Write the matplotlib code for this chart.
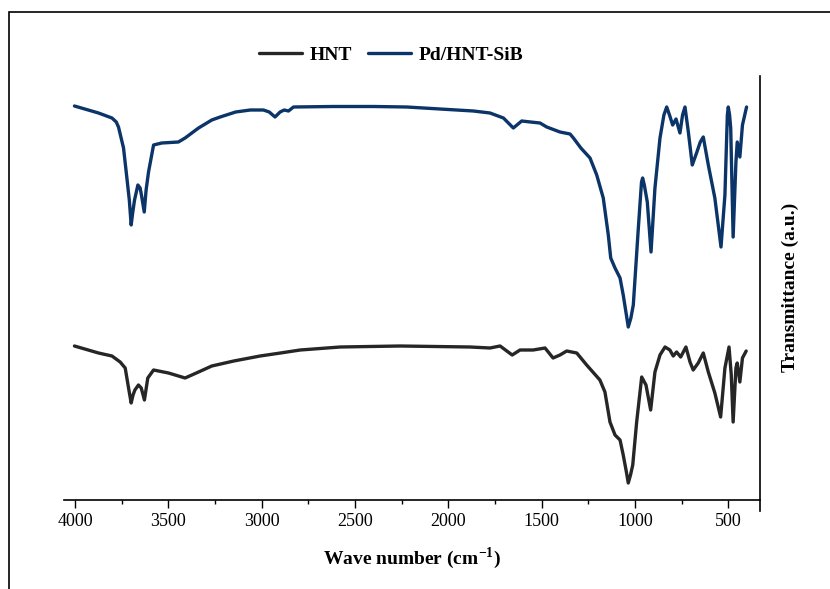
import numpy as np
import matplotlib.pyplot as plt
from matplotlib.patches import Rectangle
from matplotlib.ticker import MultipleLocator

# ===================== 配置 =====================
plt.rcParams['font.family'] = ['Liberation Serif', 'DejaVu Serif']
plt.rcParams['mathtext.fontset'] = 'custom'
plt.rcParams['mathtext.rm'] = 'Liberation Serif'
plt.rcParams['mathtext.bf'] = 'Liberation Serif:bold'

# ===================== 数据 =====================
# Pd/HNT-SiB spectrum: wavenumber (cm-1) and transmittance (a.u.)
wn_pd = [4004, 3875, 3803, 3780, 3768, 3741, 3723, 3710, 3700, 3692, 3682, 3664, 3652,
         3645, 3630, 3620, 3607, 3580, 3536, 3447, 3411, 3339, 3268, 3223, 3140, 3062,
         2991, 2960, 2929, 2902, 2880, 2857, 2830, 2616, 2400, 2223, 2045, 1866, 1777,
         1705, 1652, 1607, 1560, 1509, 1473, 1402, 1348, 1330, 1290, 1241, 1205, 1170,
         1143, 1130, 1107, 1080, 1063, 1046, 1036, 1022, 1009, 982, 965, 959, 950, 934,
         914, 893, 866, 845, 830, 815, 798, 780, 759, 745, 732, 714, 693, 670, 650, 634,
         607, 572, 539, 518, 505, 500, 493, 487, 474, 459, 452, 438, 424, 402]
tr_pd = [394, 387, 382, 378, 373, 352, 322, 300, 275, 287, 300, 315, 312,
         305, 288, 310, 328, 355, 357, 358, 362, 372, 380, 383, 388, 390,
         390, 388, 383, 388, 390, 389, 393, 393.5, 393.5, 393, 391, 389, 387,
         382, 372, 379, 378, 377, 373, 368, 366, 362, 352, 342, 325, 302,
         265, 242, 232, 222, 205, 185, 173, 182, 195, 272, 318, 322, 315, 298,
         248, 312, 362, 385, 393, 385, 375, 381, 367, 385, 393, 368, 335, 347, 358, 363,
         335, 302, 253, 305, 385, 393, 385, 372, 263, 338, 358, 343, 375, 393]

# HNT spectrum
wn_hnt = [4004, 3875, 3803, 3759, 3732, 3714, 3700, 3690, 3680, 3661, 3646, 3629, 3611,
          3580, 3500, 3411, 3339, 3268, 3150, 3009, 2900, 2794, 2580, 2259, 1884, 1777, 1723,
          1658, 1616, 1546, 1482, 1439, 1402, 1366, 1312, 1259, 1188, 1161, 1134,
          1107, 1080, 1063, 1046, 1036, 1024, 1012, 991, 964, 941, 916, 893, 866, 839, 813,
          795, 777, 755, 727, 705, 688, 661, 634, 607, 572, 541, 518, 496, 484,
          474, 459, 452, 438, 424, 404]
tr_hnt = [154, 147, 144, 138, 132, 112, 97, 105, 110, 115, 112, 100, 122,
          130, 127, 122, 128, 134, 139, 144, 147, 150, 153, 154, 153, 152, 154,
          145, 150, 150, 152, 142, 145, 149, 147, 135, 120, 108, 78,
          65, 60, 45, 28, 17, 25, 35, 78, 123, 115, 90, 128, 145, 153, 150,
          144, 148, 143, 153, 138, 130, 137, 147, 128, 107, 83, 132, 153, 125,
          78, 132, 137, 118, 142, 149]

labels = ["HNT", "Pd/HNT-SiB"]
colors = ["#262626", "#0b3468"]

# ===================== 绘图 =====================
fig = plt.figure(figsize=(8.3, 5.89), dpi=100)
ax = fig.add_axes([64 / 830, 1 - 500 / 589, 696 / 830, 424 / 589])

ax.plot(wn_hnt, tr_hnt, color=colors[0], lw=2.4, label=labels[0],
        solid_capstyle='round', solid_joinstyle='round')
ax.plot(wn_pd, tr_pd, color=colors[1], lw=2.4, label=labels[1],
        solid_capstyle='round', solid_joinstyle='round')

ax.set_xlim(4060, 330)
ax.set_ylim(0, 424)
ax.xaxis.set_major_locator(MultipleLocator(500))
ax.xaxis.set_minor_locator(MultipleLocator(250))
ax.tick_params(axis='x', which='major', direction='out', length=6, width=1, labelsize=13, pad=3)
ax.tick_params(axis='x', which='minor', direction='out', length=3, width=1)
ax.set_yticks([])

ax.spines['top'].set_visible(False)
ax.spines['left'].set_visible(False)
ax.spines['bottom'].set_linewidth(1.2)
ax.spines['right'].set_linewidth(1.2)
ax.spines['right'].set_bounds(-11, 424)
ax.spines['bottom'].set_bounds(4060, 330)

ax.set_xlabel("Wave number (cm$^{\\mathbf{-1}}$)", fontsize=14, fontweight='bold', labelpad=11)
fig.text(790 / 830, 1 - 287 / 589, "Transmittance (a.u.)", rotation=90,
         ha='center', va='center', fontsize=14, fontweight='bold')

leg = ax.legend(loc='center', bbox_to_anchor=(0.47, 1.05), ncol=2, frameon=False,
                handlelength=2.2, handletextpad=0.4, columnspacing=0.8,
                prop={'weight': 'bold', 'size': 14})

# outer frame around the figure
fig.patches.append(Rectangle((9 / 830, -0.1), 1.2, 1 - 12 / 589 + 0.1, transform=fig.transFigure,
                             fill=False, edgecolor='black', lw=1.2))

plt.savefig("out.png", dpi=100)
